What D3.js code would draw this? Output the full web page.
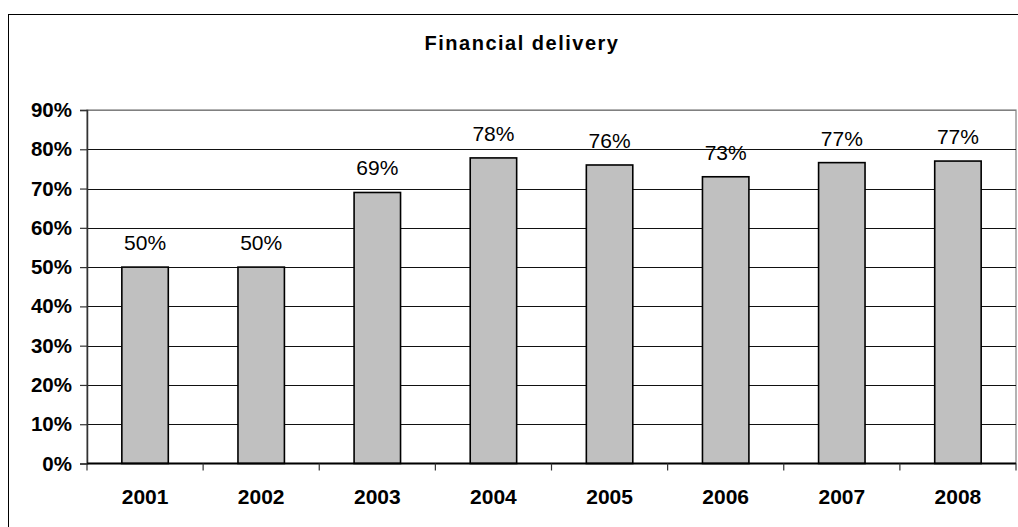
<!DOCTYPE html>
<html>
<head>
<meta charset="utf-8">
<script src="https://cdn.jsdelivr.net/npm/d3@7"></script>
<style>
  html, body { margin: 0; padding: 0; background: #fff; }
  svg { display: block; }
  text { font-family: Arial, "Liberation Sans", sans-serif; fill: #000; }
</style>
</head>
<body>
<svg id="chart" width="1018" height="527"></svg>
<script>
// Share of planned budget delivered each year
const years = ["2001", "2002", "2003", "2004", "2005", "2006", "2007", "2008"];
const delivery = [0.50, 0.50, 0.69, 0.778, 0.76, 0.73, 0.766, 0.77];
const yTicks = [0, 0.1, 0.2, 0.3, 0.4, 0.5, 0.6, 0.7, 0.8, 0.9];
const chartTitle = "Financial delivery";

const svg = d3.select("#chart");
const plot = { left: 87, right: 1016, top: 110, bottom: 463.5 };

const x = d3.scaleBand()
  .domain(years)
  .range([plot.left, plot.right])
  .paddingInner(0.6)
  .paddingOuter(0.3);

const y = d3.scaleLinear()
  .domain([0, 0.9])
  .range([plot.bottom, plot.top]);

const pct = d3.format(".0%");

// outer chart frame
svg.append("rect")
  .attr("x", 8.5).attr("y", 14.5)
  .attr("width", 1100).attr("height", 600)
  .attr("fill", "#fff")
  .attr("stroke", "#000").attr("stroke-width", 1);

// title
svg.append("text")
  .attr("x", 522).attr("y", 50)
  .attr("text-anchor", "middle")
  .attr("font-size", "20px")
  .attr("font-weight", "bold")
  .attr("letter-spacing", "1.5px")
  .text(chartTitle);

// plot area border (top/right in gray)
svg.append("rect")
  .attr("x", plot.left).attr("y", plot.top)
  .attr("width", plot.right - plot.left)
  .attr("height", plot.bottom - plot.top)
  .attr("fill", "none")
  .attr("stroke", "#808080").attr("stroke-width", 1.2);

// horizontal gridlines
svg.append("g")
  .selectAll("line")
  .data(yTicks.filter(d => d > 0))
  .join("line")
  .attr("x1", plot.left).attr("x2", plot.right)
  .attr("y1", d => Math.round(y(d)) + 0.5)
  .attr("y2", d => Math.round(y(d)) + 0.5)
  .attr("stroke", d => d === 0.9 ? "#808080" : "#111")
  .attr("stroke-width", 1);

// y axis
const yAxis = d3.axisLeft(y)
  .tickValues(yTicks)
  .tickFormat(pct)
  .tickSize(7)
  .tickPadding(8);

const gy = svg.append("g")
  .attr("transform", `translate(${plot.left},0)`)
  .call(yAxis);
gy.select(".domain").attr("stroke", "#333").attr("stroke-width", 1.5);
gy.selectAll(".tick line").attr("stroke", "#333").attr("stroke-width", 1.2);
gy.selectAll(".tick text")
  .attr("font-size", "20.5px")
  .attr("font-weight", "bold")
  .attr("font-family", "Arial, 'Liberation Sans', sans-serif")
  .attr("fill", "#000");

// bars
svg.append("g")
  .selectAll("rect")
  .data(years.map((yr, i) => ({ yr, v: delivery[i] })))
  .join("rect")
  .attr("x", d => x(d.yr))
  .attr("y", d => y(d.v))
  .attr("width", x.bandwidth())
  .attr("height", d => y(0) - y(d.v))
  .attr("fill", "#c0c0c0")
  .attr("stroke", "#000")
  .attr("stroke-width", 1.6);

// value labels
svg.append("g")
  .selectAll("text")
  .data(years.map((yr, i) => ({ yr, v: delivery[i] })))
  .join("text")
  .attr("x", d => x(d.yr) + x.bandwidth() / 2)
  .attr("y", d => y(d.v) - 17)
  .attr("text-anchor", "middle")
  .attr("font-size", "21px")
  .text(d => pct(d.v));

// x axis: ticks at category boundaries
const boundaries = years.map(yr => x(yr) - x.step() * x.paddingOuter())
  .concat([plot.right]);

const gx = svg.append("g");
gx.append("line")
  .attr("x1", plot.left).attr("x2", plot.right)
  .attr("y1", plot.bottom).attr("y2", plot.bottom)
  .attr("stroke", "#000").attr("stroke-width", 2);
gx.selectAll("line.tick")
  .data(boundaries)
  .join("line")
  .attr("class", "tick")
  .attr("x1", d => d).attr("x2", d => d)
  .attr("y1", plot.bottom).attr("y2", plot.bottom + 7)
  .attr("stroke", "#333").attr("stroke-width", 1.2);
gx.selectAll("text")
  .data(years)
  .join("text")
  .attr("x", d => x(d) + x.bandwidth() / 2)
  .attr("y", 504)
  .attr("text-anchor", "middle")
  .attr("font-size", "21px")
  .attr("font-weight", "bold")
  .text(d => d);
</script>
</body>
</html>
